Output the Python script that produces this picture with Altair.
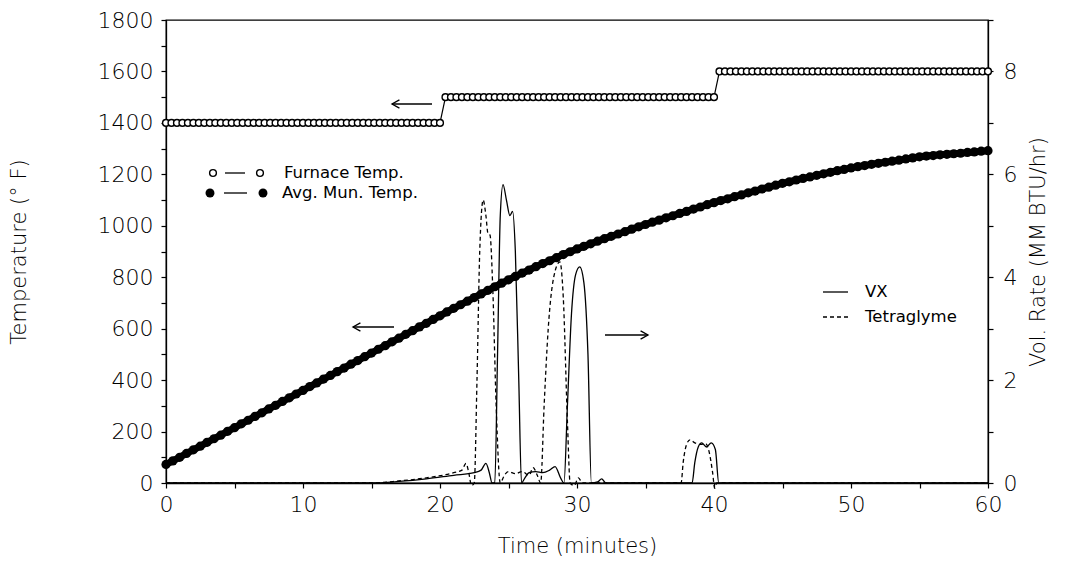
import altair as alt
import pandas as pd

# ---------------- data ----------------
furnace_time = [round(i * 0.4, 1) for i in range(151)]
furnace_temp = [1400] * 51 + [1500] * 50 + [1600] * 50

mun_time = [i * 0.5 for i in range(121)]
mun_temp = [
    72, 86, 100, 115, 129, 143, 158, 172, 186, 201, 215,
    230, 244, 259, 273, 288, 302, 317, 331, 346, 360,
    375, 389, 404, 418, 433, 447, 462, 476, 491, 505,
    520, 534, 549, 563, 578, 592, 607, 621, 636, 650,
    665, 679, 693, 707, 721, 735, 749, 763, 777, 790,
    803, 816, 828, 841, 853, 864, 876, 888, 899, 910,
    920, 930, 940, 950, 959, 968, 977, 987, 996, 1005,
    1014, 1022, 1031, 1039, 1048, 1056, 1065, 1073, 1082, 1090,
    1098, 1105, 1113, 1120, 1128, 1135, 1143, 1150, 1158, 1165,
    1171, 1178, 1184, 1190, 1196, 1202, 1208, 1214, 1219, 1225,
    1230, 1234, 1239, 1243, 1247, 1251, 1255, 1260, 1264, 1268,
    1271, 1273, 1276, 1278, 1280, 1282, 1285, 1287, 1290, 1292,
]

vx_time = [0, 15, 17, 19, 21, 22.5, 23.0, 23.35, 23.6, 23.8, 24.0, 24.2, 24.4, 24.6,
           24.85, 25.1, 25.3, 25.5, 25.75, 25.95, 26.2, 26.5, 27.0, 27.5, 28.0, 28.4,
           28.8, 29.05, 29.3, 29.6, 29.9, 30.2, 30.5, 30.8, 31.05, 31.5, 31.8, 32.1,
           38.4, 38.6, 38.85, 39.1, 39.45, 39.8, 40.1, 40.35, 60]
vx_rate = [0, 0, 0.03, 0.08, 0.15, 0.2, 0.25, 0.38, 0.2, 0.0, 0.0, 2.5, 5.2, 5.8,
           5.5, 5.2, 5.28, 4.5, 2.0, 0.0, 0.1, 0.2, 0.22, 0.2, 0.25, 0.32,
           0.1, 0.0, 1.5, 3.3, 4.05, 4.2, 3.9, 2.5, 0.0, 0.02, 0.08, 0.0,
           0.0, 0.4, 0.7, 0.78, 0.7, 0.78, 0.65, 0.0, 0.0]

tg_time = [0, 15, 17, 19, 21, 21.6, 21.9, 22.1, 22.3, 22.5, 22.7, 22.9, 23.15, 23.35,
           23.5, 23.65, 23.85, 24.1, 24.4, 24.7, 25.0, 25.5, 26.0, 26.5, 26.8, 27.1,
           27.35, 27.6, 27.9, 28.3, 28.75, 29.0, 29.3, 29.5, 29.8, 30.1, 30.4, 37.6,
           37.75, 38.0, 38.25, 38.6, 39.0, 39.4, 39.65, 39.9, 40.05, 40.2, 60]
tg_rate = [0, 0, 0.04, 0.1, 0.2, 0.25, 0.38, 0.2, -0.05, 0.0, 2.0, 4.5, 5.5, 5.2,
           4.85, 4.82, 3.8, 1.5, 0.0, 0.15, 0.22, 0.18, 0.22, 0.15, 0.3, 0.15,
           0.0, 1.5, 3.0, 4.0, 4.3, 3.6, 1.2, 0.0, -0.05, 0.1, 0.0, 0.0,
           0.4, 0.75, 0.84, 0.78, 0.75, 0.76, 0.6, 0.2, -0.1, 0.0, 0.0]

legend_temp = ["Furnace Temp.", "Avg. Mun. Temp."]
legend_rate = ["VX", "Tetraglyme"]

FONT = "DejaVu Sans"

furnace_df = pd.DataFrame({"t": furnace_time, "temp": furnace_temp})
mun_df = pd.DataFrame({"t": mun_time, "temp": mun_temp})
vx_df = pd.DataFrame({"t": vx_time, "rate": vx_rate})
tg_df = pd.DataFrame({"t": tg_time, "rate": tg_rate})
one = pd.DataFrame({"a": [0]})

X = alt.X(
    "t:Q",
    scale=alt.Scale(domain=[0, 60], nice=False, zero=False),
    axis=alt.Axis(
        title="Time (minutes)",
        values=list(range(0, 61, 5)),
        format="d",
        labelExpr="datum.value % 10 == 0 ? datum.label : ''",
        labelFlush=False,
        labelPadding=6,
        titlePadding=20,
    ),
)
Y_T = alt.Y(
    "temp:Q",
    scale=alt.Scale(domain=[0, 1800], nice=False),
    axis=alt.Axis(
        title="Temperature (° F)",
        values=list(range(0, 1801, 100)),
        format="d",
        labelExpr="datum.value % 200 == 0 ? datum.label : ''",
        labelFlush=False,
        labelPadding=8,
        titlePadding=68,
        titleAngle=270,
    ),
)
Y_R = alt.Y(
    "rate:Q",
    scale=alt.Scale(domain=[0, 9], nice=False),
    axis=alt.Axis(
        title="Vol. Rate (MM BTU/hr)",
        orient="right",
        values=list(range(0, 10)),
        format="d",
        labelExpr="datum.value % 2 == 0 ? datum.label : ''",
        labelFlush=False,
        labelPadding=10,
        titlePadding=32,
        titleAngle=270,
    ),
)

furn_line = alt.Chart(furnace_df).mark_line(color="black", strokeWidth=1.2).encode(x=X, y=Y_T)
furn_pts = alt.Chart(furnace_df).mark_point(
    shape="circle", size=46, filled=True, fill="white", stroke="black", strokeWidth=1.4, opacity=1
).encode(x=X, y=Y_T)
mun_line = alt.Chart(mun_df).mark_line(color="black", strokeWidth=7).encode(x=X, y=Y_T)
mun_pts = alt.Chart(mun_df).mark_point(
    shape="circle", size=85, filled=True, color="black", opacity=1
).encode(x=X, y=Y_T)

temp_layer = alt.layer(furn_line, furn_pts, mun_line, mun_pts)

vx_line = alt.Chart(vx_df).mark_line(color="black", strokeWidth=1.3, interpolate="monotone").encode(x=X, y=Y_R)
tg_line = alt.Chart(tg_df).mark_line(
    color="black", strokeWidth=1.3, strokeDash=[4, 3], interpolate="monotone"
).encode(x=X, y=Y_R)

rate_layer = alt.layer(vx_line, tg_line)

# ---------------- annotations (pixel positions inside plot) ----------------
def rule(x1, x2, y, dash=None, width=1.3):
    kw = dict(color="black", strokeWidth=width)
    if dash:
        kw["strokeDash"] = dash
    return alt.Chart(one).mark_rule(**kw).encode(
        x=alt.value(x1), x2=alt.value(x2), y=alt.value(y), y2=alt.value(y)
    )

def head(x, y, left=True):
    shape = "M 1 -0.55 L 0 0 L 1 0.55" if left else "M -1 -0.55 L 0 0 L -1 0.55"
    return alt.Chart(one).mark_point(
        shape=shape, size=220, filled=False, stroke="black", strokeWidth=1.3, opacity=1
    ).encode(x=alt.value(x), y=alt.value(y))

def label(txt, x, y):
    return alt.Chart(one).mark_text(
        text=txt, align="left", baseline="middle", font=FONT, fontSize=16.5, color="black"
    ).encode(x=alt.value(x), y=alt.value(y))

def sym(x, y, filled):
    if filled:
        return alt.Chart(one).mark_point(shape="circle", size=80, filled=True, color="black", opacity=1).encode(
            x=alt.value(x), y=alt.value(y))
    return alt.Chart(one).mark_point(shape="circle", size=46, filled=True, fill="white", stroke="black",
                                     strokeWidth=1.4, opacity=1).encode(x=alt.value(x), y=alt.value(y))

annots = [
    # arrows
    rule(226, 266, 84), head(226, 84, True),
    rule(187, 228, 307), head(187, 307, True),
    rule(439, 482, 315), head(482, 315, False),
    # legend temperatures
    rule(59, 79, 153), sym(47, 153, False), sym(94, 153, False), label(legend_temp[0], 118, 153),
    rule(58, 81, 173), sym(44, 173, True), sym(97, 173, True), label(legend_temp[1], 116, 173),
    # legend rates
    rule(657, 682, 272), label(legend_rate[0], 699, 272),
    rule(657, 682, 297, dash=[4, 3]), label(legend_rate[1], 699, 297),
]

chart = alt.layer(temp_layer, rate_layer, *annots).resolve_scale(y="independent").properties(
    width=822, height=463,
    autosize=alt.AutoSizeParams(type="none"),
    padding={"left": 158, "top": 12, "right": 79, "bottom": 82},
    background="white",
).configure_view(
    stroke="black", strokeWidth=1.3
).configure_axis(
    labelFont=FONT, labelFontSize=22, labelColor="black", labelFontWeight=200,
    titleFont=FONT, titleFontSize=21, titleFontWeight=200, titleColor="black",
    domainColor="black", domainWidth=1.3, tickColor="black", tickWidth=1.2, tickSize=5,
    grid=False,
)

chart.save("out.html", embed_options={"renderer": "svg", "actions": False})
